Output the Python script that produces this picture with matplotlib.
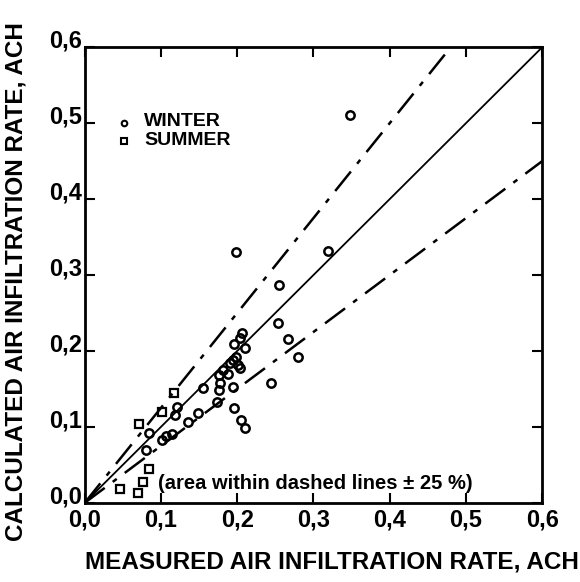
import matplotlib
matplotlib.use('Agg')
import matplotlib.pyplot as plt
import matplotlib.transforms as mtransforms
import numpy as np
from matplotlib.ticker import FuncFormatter

# measured vs calculated air infiltration (ACH)
winter_measured = [0.348, 0.198, 0.319, 0.255, 0.253, 0.266, 0.280, 0.244,
                   0.206, 0.203, 0.196, 0.210, 0.198, 0.194, 0.190, 0.201,
                   0.182, 0.188, 0.176, 0.203, 0.178, 0.194, 0.176, 0.173,
                   0.196, 0.205, 0.210, 0.155, 0.148, 0.135, 0.121, 0.119,
                   0.114, 0.106, 0.102, 0.084, 0.080]
winter_calculated = [0.511, 0.330, 0.332, 0.287, 0.237, 0.216, 0.192, 0.158,
                     0.224, 0.217, 0.209, 0.204, 0.192, 0.188, 0.184, 0.182,
                     0.175, 0.170, 0.168, 0.178, 0.158, 0.153, 0.149, 0.133,
                     0.125, 0.109, 0.099, 0.151, 0.118, 0.107, 0.126, 0.116,
                     0.091, 0.088, 0.083, 0.092, 0.070]
summer_measured = [0.117, 0.102, 0.071, 0.084, 0.076, 0.070, 0.046]
summer_calculated = [0.145, 0.120, 0.104, 0.045, 0.028, 0.013, 0.018]

band = 0.25
ticks = [0.0, 0.1, 0.2, 0.3, 0.4, 0.5, 0.6]

plt.rcParams['font.family'] = ['Liberation Sans', 'DejaVu Sans']
plt.rcParams['font.weight'] = 'bold'
plt.rcParams['axes.labelweight'] = 'bold'

fig = plt.figure(figsize=(5.8, 5.82), dpi=100)
fig.patch.set_facecolor('white')
ax = fig.add_axes([0.146, 0.136, 0.789, 0.783])

# 1:1 line and the +-25 % band
xx = np.array([0.0, 0.6])
ax.plot(xx, xx, color='black', lw=1.3)
dashdot = (0, (10, 4, 2, 4))
ax.plot(xx, xx * (1 + band), color='black', lw=1.8, linestyle=dashdot)
ax.plot(xx, xx * (1 - band), color='black', lw=1.8, linestyle=dashdot)

ax.plot(winter_measured, winter_calculated, 'o', ms=6, mfc='none',
        mec='black', mew=1.8, clip_on=False)
ax.plot(summer_measured, summer_calculated, 's', ms=6, mfc='none',
        mec='black', mew=1.6, clip_on=False)

# hand-drawn style legend
ax.plot([0.051], [0.500], 'o', ms=4, mfc='none', mec='black', mew=1.5)
ax.plot([0.051], [0.477], 's', ms=4, mfc='none', mec='black', mew=1.5)
ax.text(0.078, 0.502, 'WINTER', fontsize=14, va='center', ha='left')
ax.text(0.078, 0.477, 'SUMMER', fontsize=14, va='center', ha='left')

ax.text(0.096, 0.025, '(area within dashed lines \u00b1 25 %)', fontsize=14.5,
        va='center', ha='left')

ax.set_xlim(0, 0.6)
ax.set_ylim(0, 0.6)
ax.set_xticks(ticks)
ax.set_yticks(ticks)
fmt = FuncFormatter(lambda v, p: ('%.1f' % v).replace('.', ','))
ax.xaxis.set_major_formatter(fmt)
ax.yaxis.set_major_formatter(fmt)
ax.tick_params(axis='both', direction='in', length=7, width=1.5,
               labelsize=17, top=True, right=True, pad=4)
ax.tick_params(axis='y', pad=2)
for s in ax.spines.values():
    s.set_linewidth(2)

# y tick labels sit a little above their ticks on the original
shift = mtransforms.ScaledTranslation(0, 6 / 72, fig.dpi_scale_trans)
for lab in ax.get_yticklabels():
    lab.set_transform(lab.get_transform() + shift)

ax.set_xlabel('MEASURED AIR INFILTRATION RATE, ACH', fontsize=17.5)
ax.set_ylabel('CALCULATED AIR INFILTRATION RATE, ACH', fontsize=17.5)
ax.xaxis.set_label_coords(0.54, -0.105)
ax.yaxis.set_label_coords(-0.125, 0.485)

fig.savefig('out.png', dpi=100, facecolor='white')
